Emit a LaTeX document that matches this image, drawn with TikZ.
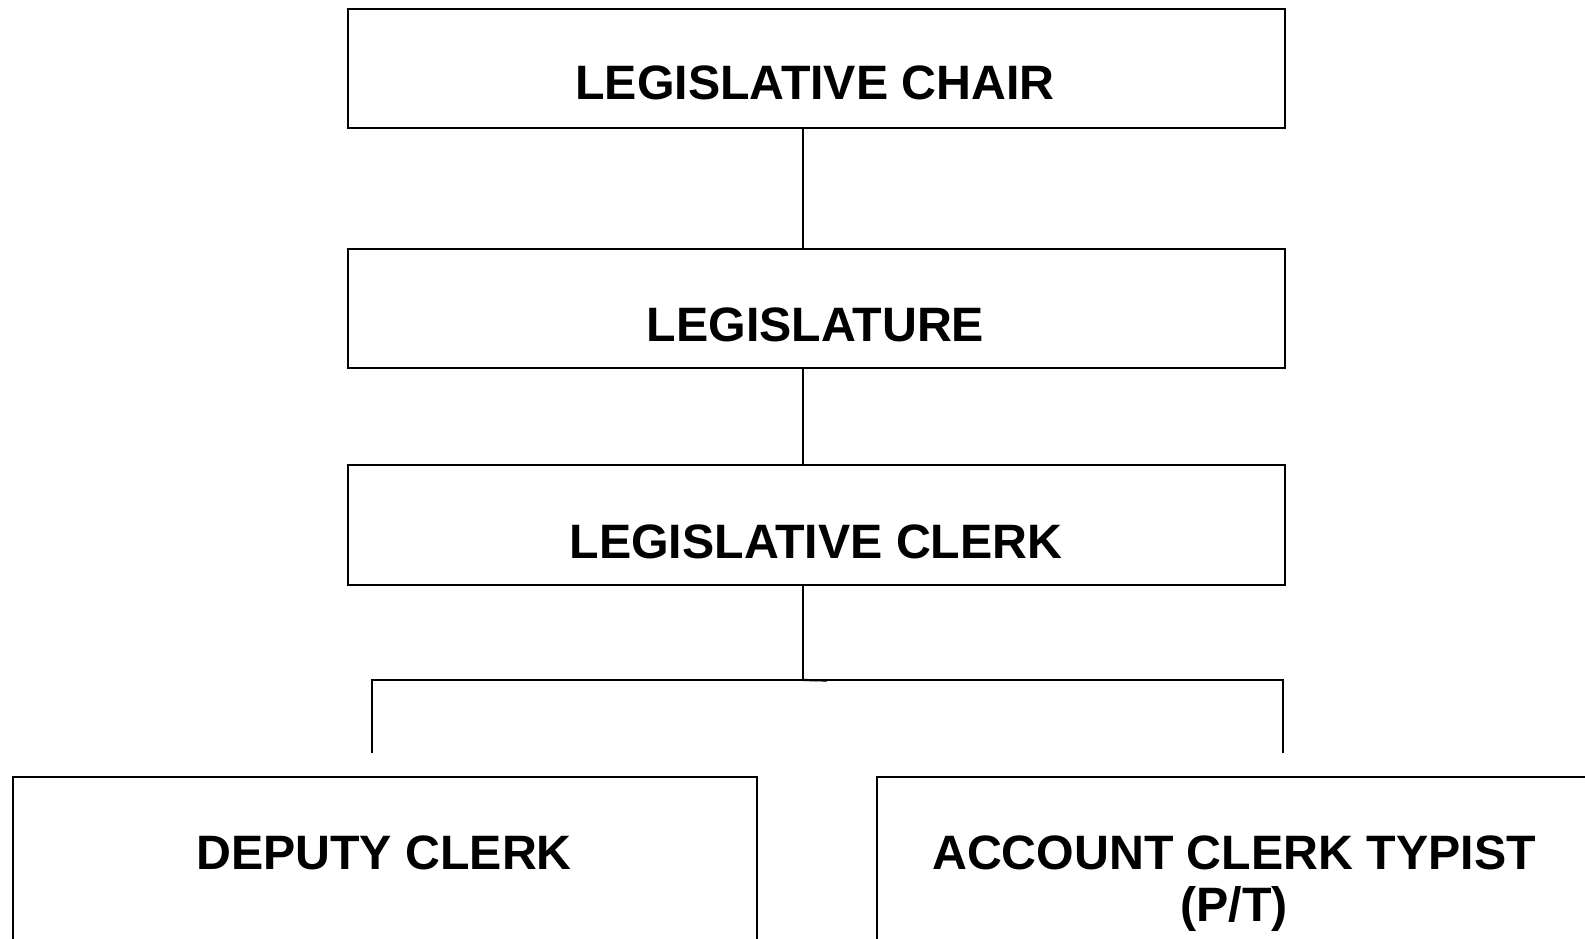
\documentclass[tikz,border=0pt]{standalone}
\usepackage{fontspec}
\setmainfont{Liberation Sans}
\begin{document}
\begin{tikzpicture}[x=1pt,y=-1pt,
  box/.style={draw=black, line width=1.6pt, fill=none, inner sep=0pt, anchor=north west},
  title/.style={font=\bfseries\fontsize{48.3}{52}\selectfont, anchor=base, inner sep=0pt, align=center},
  link/.style={draw=black, line width=1.3pt}]
\clip (0,0) rectangle (1585,939);
\fill[white] (0,0) rectangle (1585,939);

% boxes, given by their corners
\node[box, minimum width=937pt, minimum height=119pt] (chair) at (347,8) {};
\node[box, minimum width=937pt, minimum height=119pt] (legis) at (347,248) {};
\node[box, minimum width=937pt, minimum height=120pt] (clerk) at (347,464) {};
\node[box, minimum width=744pt, minimum height=200pt] (deputy) at (12,776) {};
\node[box, minimum width=740pt, minimum height=200pt] (account) at (876,776) {};

% titles, set on their baselines (a two-line title sits on its last line)
\node[title] (tchair) at (815,100) {LEGISLATIVE CHAIR};
\node[title] (tlegis) at (815.5,341) {LEGISLATURE};
\node[title] (tclerk) at (816,558) {LEGISLATIVE CLERK};
\node[title] (tdeputy) at (384,869) {DEPUTY CLERK};
\node[title] (taccount) at (1234,921) {ACCOUNT CLERK TYPIST\\(P/T)};

% reporting lines
\coordinate (spine) at (803,0);
\coordinate (fork) at (803,680);
\coordinate (forkL) at (372,680);
\coordinate (forkR) at (1283,680);
\coordinate (dropL) at (372,753);
\coordinate (dropR) at (1283,753);

\draw[link] (chair.south -| spine) -- (legis.north -| spine);
\draw[link] (legis.south -| spine) -- (clerk.north -| spine);
\draw[link] (clerk.south -| spine) -- (fork);
\draw[link] (dropL) -- (forkL) -- (forkR) -- (dropR);
\draw[link, line width=2.2pt] (fork) -- ++(24,0.5);
\end{tikzpicture}
\end{document}
